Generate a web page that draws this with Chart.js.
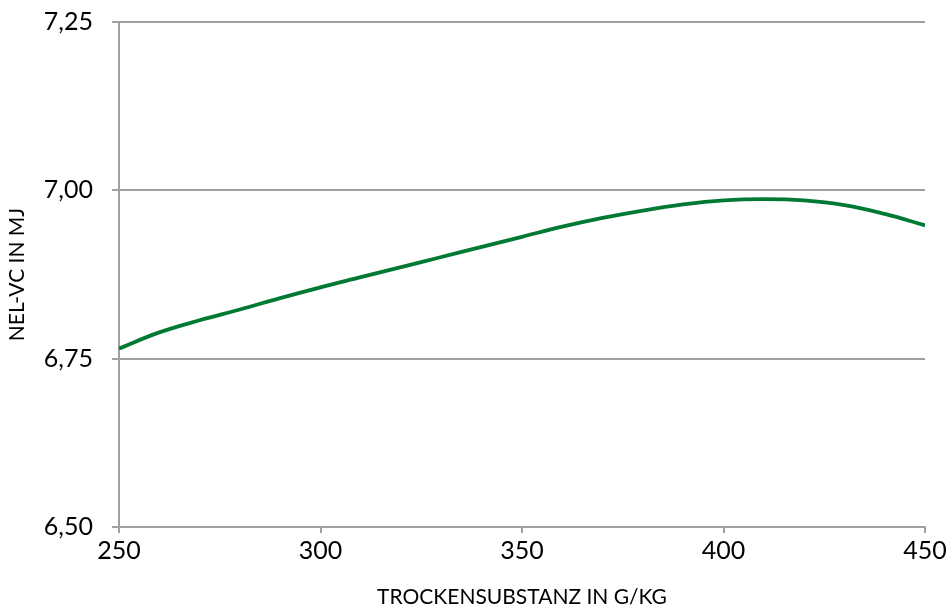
<!DOCTYPE html>
<html>
<head>
<meta charset="utf-8">
<script src="https://cdn.jsdelivr.net/npm/chart.js@4"></script>
<style>
  body { margin: 0; background: #ffffff; }
  #wrap { width: 952px; height: 610px; }
</style>
</head>
<body>
<div id="wrap"><canvas id="chart" width="952" height="610"></canvas></div>
<script>
// Trockensubstanz (g/kg)
const dryMatter = [250, 260, 270, 280, 290, 300, 310, 320, 330, 340, 350,
                   360, 370, 380, 390, 400, 410, 420, 430, 440, 450];
// NEL-VC (MJ)
const nelValues = [6.765, 6.789, 6.807, 6.823, 6.840, 6.856, 6.871, 6.886, 6.901, 6.916, 6.931,
                   6.946, 6.959, 6.970, 6.979, 6.985, 6.987, 6.985, 6.978, 6.965, 6.948];
const yTicks = [6.50, 6.75, 7.00, 7.25];
const xTicks = [250, 300, 350, 400, 450];

const fontFamily = 'Lato, sans-serif';
const gridColor = '#a0a0a0';
const lineGreen = '#007a33';

const points = dryMatter.map((x, i) => ({ x: x, y: nelValues[i] }));

const ctx = document.getElementById('chart').getContext('2d');
const chart = new Chart(ctx, {
    type: 'line',
    data: {
        datasets: [{
            data: points,
            borderColor: lineGreen,
            borderWidth: 3.8,
            pointRadius: 0,
            tension: 0.4,
            fill: false
        }]
    },
    options: {
        responsive: false,
        animation: false,
        devicePixelRatio: 1,
        layout: { padding: { top: 22, right: 27, left: 0, bottom: 0 } },
        plugins: {
            legend: { display: false },
            tooltip: { enabled: false }
        },
        scales: {
            x: {
                type: 'linear',
                min: 250,
                max: 450,
                afterBuildTicks: (scale) => { scale.ticks = xTicks.map(v => ({ value: v })); },
                afterFit: (scale) => { scale.height = 83; },
                grid: {
                    drawOnChartArea: false,
                    drawTicks: true,
                    tickLength: 6,
                    color: gridColor,
                    lineWidth: 2
                },
                border: { color: gridColor, width: 2 },
                ticks: {
                    color: '#000000',
                    font: { family: fontFamily, size: 25 },
                    padding: 3,
                    maxRotation: 0
                },
                title: {
                    display: true,
                    text: 'TROCKENSUBSTANZ IN G/KG',
                    color: '#000000',
                    font: { family: fontFamily, size: 21 },
                    padding: { top: 0, bottom: 0 }
                }
            },
            y: {
                min: 6.5,
                max: 7.25,
                afterBuildTicks: (scale) => { scale.ticks = yTicks.map(v => ({ value: v })); },
                afterFit: (scale) => {
                    scale.width = 119;
                    scale.paddingTop = 0;
                    scale.paddingBottom = 0;
                },
                grid: {
                    color: gridColor,
                    lineWidth: 2,
                    tickLength: 7
                },
                border: { color: gridColor, width: 2 },
                ticks: {
                    color: '#000000',
                    font: { family: fontFamily, size: 25 },
                    padding: 19,
                    callback: (v) => v.toFixed(2).replace('.', ',')
                },
                title: {
                    display: true,
                    text: 'NEL-VC IN MJ',
                    color: '#000000',
                    font: { family: fontFamily, size: 21 },
                    padding: { top: 5, bottom: 0 }
                }
            }
        }
    }
});
</script>
</body>
</html>
